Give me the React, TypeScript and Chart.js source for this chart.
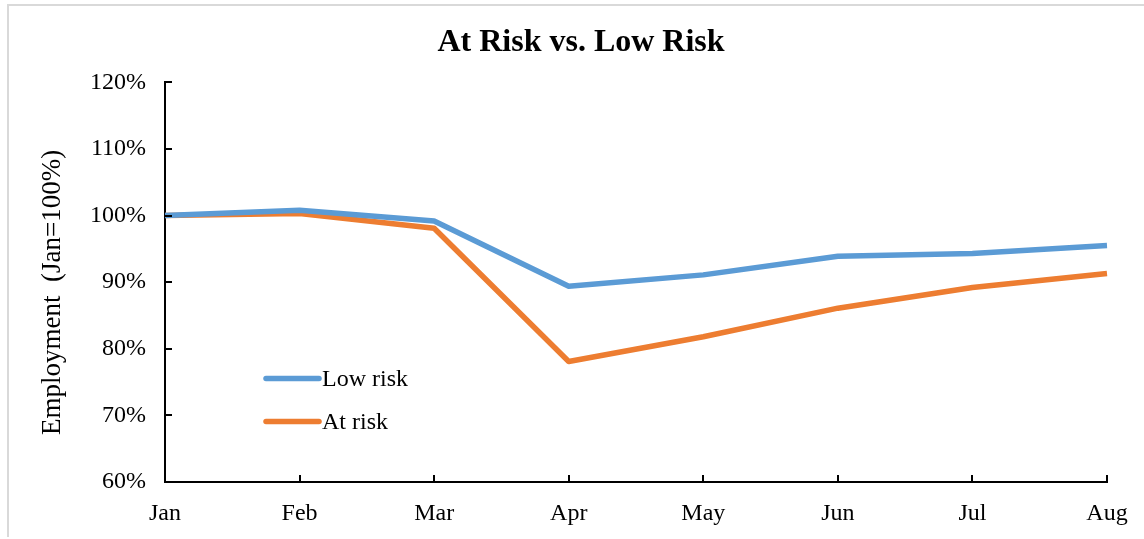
import { useEffect, useRef } from "react";
import { Chart, registerables } from "chart.js";

Chart.register(...registerables);

// Employment indexed to January (Jan = 100%)
const months = ["Jan", "Feb", "Mar", "Apr", "May", "Jun", "Jul", "Aug"];
const lowRisk = [100.0, 100.8, 99.2, 89.4, 91.1, 93.9, 94.3, 95.5];
const atRisk = [100.0, 100.3, 98.1, 78.1, 81.8, 86.1, 89.2, 91.3];
const yTickValues = [60, 70, 80, 90, 100, 110, 120];
const seriesNames = ["Low risk", "At risk"];
const seriesColors = ["#5B9BD5", "#ED7D31"];

const SERIF = "'Liberation Serif', 'Times New Roman', serif";

// Short tick marks drawn inward from both axes
const inwardTicks = {
  id: "inwardTicks",
  afterDraw(chart: any) {
    const { ctx, chartArea, scales } = chart;
    ctx.save();
    ctx.strokeStyle = "#000";
    ctx.lineWidth = 2;
    ctx.beginPath();
    scales.y.ticks.forEach((t: any) => {
      const y = Math.round(scales.y.getPixelForValue(t.value));
      ctx.moveTo(chartArea.left, y);
      ctx.lineTo(chartArea.left + 7, y);
    });
    scales.x.ticks.forEach((_t: any, i: number) => {
      const x = Math.round(scales.x.getPixelForTick(i));
      ctx.moveTo(x, chartArea.bottom);
      ctx.lineTo(x, chartArea.bottom - 7);
    });
    ctx.stroke();
    ctx.restore();
  },
};

// Legend placed inside the plot area, lower left
const innerLegend = {
  id: "innerLegend",
  afterDatasetsDraw(chart: any) {
    const { ctx, chartArea } = chart;
    ctx.save();
    chart.data.datasets.forEach((ds: any, i: number) => {
      const y = chartArea.top + 296 + i * 43;
      const x0 = chartArea.left + 101;
      ctx.strokeStyle = ds.borderColor;
      ctx.lineWidth = 5.5;
      ctx.lineCap = "round";
      ctx.beginPath();
      ctx.moveTo(x0, y);
      ctx.lineTo(x0 + 53, y);
      ctx.stroke();
      ctx.fillStyle = "#000";
      ctx.font = `24px ${SERIF}`;
      ctx.textBaseline = "middle";
      ctx.textAlign = "left";
      ctx.fillText(ds.label, x0 + 56, y + 1);
    });
    ctx.restore();
  },
};

export default function App() {
  const canvasRef = useRef<HTMLCanvasElement | null>(null);

  useEffect(() => {
    if (!canvasRef.current) return;
    const chart = new Chart(canvasRef.current, {
      type: "line",
      data: {
        labels: months,
        datasets: [
          {
            label: seriesNames[0],
            data: lowRisk,
            borderColor: seriesColors[0],
            backgroundColor: seriesColors[0],
            borderWidth: 5.5,
            pointRadius: 0,
            tension: 0,
            borderJoinStyle: "round",
          },
          {
            label: seriesNames[1],
            data: atRisk,
            borderColor: seriesColors[1],
            backgroundColor: seriesColors[1],
            borderWidth: 5.5,
            pointRadius: 0,
            tension: 0,
            borderJoinStyle: "round",
          },
        ],
      },
      options: {
        animation: false,
        responsive: false,
        maintainAspectRatio: false,
        layout: { padding: 0 },
        plugins: {
          legend: { display: false },
          tooltip: { enabled: false },
          title: {
            display: true,
            text: "At Risk vs. Low Risk",
            color: "#000",
            font: { family: SERIF, size: 32, weight: "bold" },
            padding: { top: 24, bottom: 20 },
          },
        },
        scales: {
          x: {
            type: "category",
            offset: false,
            grid: { display: false },
            border: { display: true, color: "#000", width: 2 },
            ticks: {
              color: "#000",
              font: { family: SERIF, size: 24 },
              padding: 9,
              maxRotation: 0,
              autoSkip: false,
            },
            afterFit: (s: any) => {
              s.height = 57;
              s.paddingLeft = 0;
              s.paddingRight = 55;
            },
          },
          y: {
            min: 60,
            max: 120,
            grid: { display: false },
            border: { display: true, color: "#000", width: 2 },
            afterBuildTicks: (s: any) => {
              s.ticks = yTickValues.map((v) => ({ value: v }));
            },
            ticks: {
              color: "#000",
              font: { family: SERIF, size: 24 },
              padding: 11,
              callback: (v: any) => `${v}%`,
            },
            title: {
              display: true,
              text: "Employment  (Jan=100%)   ",
              color: "#000",
              font: { family: SERIF, size: 27 },
              padding: { top: 37, bottom: 0 },
            },
            afterFit: (s: any) => {
              s.width = 165;
            },
          },
        },
      },
      plugins: [inwardTicks, innerLegend],
    });
    return () => chart.destroy();
  }, []);

  return (
    <div
      style={{
        position: "fixed",
        left: 0,
        top: 0,
        width: 1144,
        height: 539,
        overflow: "hidden",
        background: "#fff",
      }}
    >
      <div
        style={{
          position: "absolute",
          left: 7,
          top: 4,
          width: 1200,
          height: 533,
          boxSizing: "border-box",
          borderTop: "2px solid #D9D9D9",
          borderLeft: "2px solid #D9D9D9",
        }}
      />
      <canvas
        ref={canvasRef}
        width={1162}
        height={539}
        style={{ position: "absolute", left: 0, top: 0, width: 1162, height: 539 }}
      />
    </div>
  );
}
